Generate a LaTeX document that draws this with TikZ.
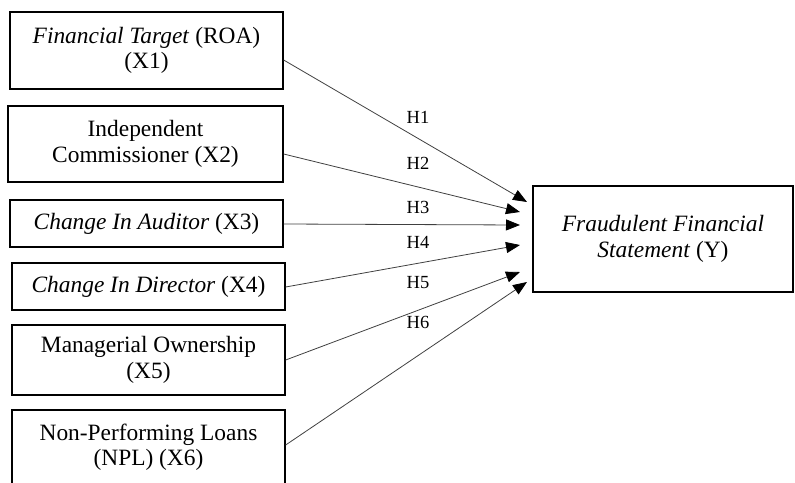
\documentclass[tikz,border=0pt]{standalone}
\usepackage{fontspec}
\setmainfont{Liberation Serif}
\usetikzlibrary{arrows.meta}
\begin{document}
\begin{tikzpicture}[x=1pt,y=-1pt,
  varbox/.style={draw=black,line width=1.3pt,align=center,inner sep=0pt,
    font=\fontsize{23.4}{25.5}\selectfont,minimum width=273pt},
  hyplink/.style={draw=black!75,line width=0.8pt,-{Triangle[length=14pt,width=11pt,fill=black,color=black]}},
  hlabel/.style={font=\fontsize{18.5}{20}\selectfont,inner sep=0pt}]
\useasboundingbox (0,0) rectangle (795,482);
\clip (0,0) rectangle (795,482);
\node[varbox,minimum height=77pt] (x1) at (146.5,50.5) {\textit{Financial Target} (ROA)\\(X1)};
\node[varbox,minimum height=76pt,minimum width=275pt] (x2) at (145.5,144) {Independent\\Commissioner (X2)};
\node[varbox,minimum height=47pt] (x3) at (146.5,223.5) {\textit{Change In Auditor} (X3)};
\node[varbox,minimum height=47pt] (x4) at (148.5,286.5) {\textit{Change In Director} (X4)};
\node[varbox,minimum height=70pt] (x5) at (148.5,360) {Managerial Ownership\\(X5)};
\node[varbox,minimum height=74pt] (x6) at (148.5,447) {Non-Performing Loans\\(NPL) (X6)};
\node[varbox,minimum height=106pt,minimum width=260pt] (y) at (663,239) {\textit{Fraudulent Financial}\\\textit{Statement} (Y)};
\coordinate (t1) at (527,202);
\coordinate (t2) at (520,212);
\coordinate (t3) at (520,225);
\coordinate (t4) at (520,245);
\coordinate (t5) at (520,272);
\coordinate (t6) at (527,282);
\draw[hyplink] ([yshift=-9.5pt]x1.east) -- (t1);
\draw[hyplink] ([yshift=-10pt]x2.east) -- (t2);
\draw[hyplink] ([yshift=-0.5pt]x3.east) -- (t3);
\draw[hyplink] ([yshift=-0.5pt]x4.east) -- (t4);
\draw[hyplink] (x5.east) -- (t5);
\draw[hyplink] ([yshift=2pt]x6.east) -- (t6);
\node[hlabel] (h1) at (418,117) {H1};
\node[hlabel] (h2) at (418,163) {H2};
\node[hlabel] (h3) at (418,207) {H3};
\node[hlabel] (h4) at (418,242) {H4};
\node[hlabel] (h5) at (418,283) {H5};
\node[hlabel] (h6) at (418,322) {H6};
\end{tikzpicture}
\end{document}
